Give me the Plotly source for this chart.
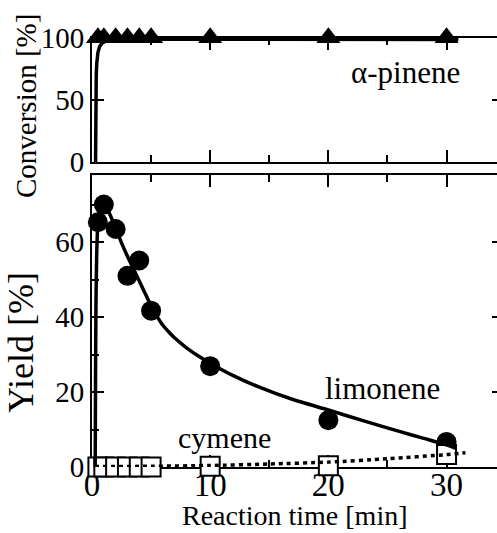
import plotly.graph_objects as go

# ---- data ----
time_pts = [0.5, 1, 2, 3, 4, 5, 10, 20, 30]
conversion = [100, 100, 100, 100, 100, 100, 100, 100, 100]
limonene = [65.3, 70.0, 63.5, 51.0, 55.1, 41.7, 26.9, 12.5, 6.7]
cymene = [0, 0, 0, 0, 0, 0, 0.2, 0.3, 3.3]

conv_fit_t = [0.3, 0.31, 0.33, 0.36, 0.4, 0.5, 0.65, 0.9, 1.3, 2, 5, 10, 20, 30, 31]
conv_fit = [0, 30, 55, 70, 79, 88, 93, 96, 97.8, 98.5, 98.7, 98.7, 98.7, 98.6, 98.6]

lim_fit_t = [0.27, 0.3, 0.34, 0.4, 0.45, 0.5, 0.6, 0.8, 1.0, 1.2, 1.5, 2, 2.5, 3, 3.5, 4, 4.5,
             5, 5.5, 6, 6.5, 7, 8, 9, 10, 12, 14, 17, 20, 23, 26, 28, 30, 30.8]
lim_fit = [0, 25, 45, 57, 62, 65, 67.5, 69.3, 69.8, 69.5, 67.5, 63.8, 59.8, 56.2, 52.9, 49.6,
           46.3, 43.0, 40.2, 37.8, 36.0, 34.4, 31.8, 29.6, 27.7, 24.3, 21.5, 18.0, 15.2, 12.3,
           9.5, 7.7, 5.9, 5.0]

cym_fit_t = [0.25, 5, 10, 15, 20, 25, 30, 31.6]
cym_fit = [0.1, 0.2, 0.4, 0.8, 1.3, 2.2, 3.3, 3.8]

x_ticks = [0, 10, 20, 30]
conv_ticks = [0, 50, 100]
yield_ticks = [0, 20, 40, 60]

FONT = "Liberation Serif, Times New Roman, DejaVu Serif, serif"
BLACK = "black"

fig = go.Figure()

# top panel (conversion)
fig.add_trace(go.Scatter(x=time_pts, y=conversion, mode="markers", xaxis="x2", yaxis="y2",
                         marker=dict(symbol="triangle-up", size=21, color=BLACK),
                         cliponaxis=False, showlegend=False))
fig.add_trace(go.Scatter(x=conv_fit_t, y=conv_fit, mode="lines", xaxis="x2", yaxis="y2",
                         line=dict(color=BLACK, width=3.5), cliponaxis=False, showlegend=False))

# bottom panel (yield)
fig.add_trace(go.Scatter(x=time_pts, y=limonene, mode="markers", xaxis="x", yaxis="y",
                         marker=dict(symbol="circle", size=20, color=BLACK),
                         cliponaxis=False, showlegend=False))
fig.add_trace(go.Scatter(x=time_pts, y=cymene, mode="markers", xaxis="x", yaxis="y",
                         marker=dict(symbol="square", size=19, color="white",
                                     line=dict(color=BLACK, width=2)),
                         cliponaxis=False, showlegend=False))
fig.add_trace(go.Scatter(x=lim_fit_t, y=lim_fit, mode="lines", xaxis="x", yaxis="y",
                         line=dict(color=BLACK, width=3.5, shape="spline", smoothing=0.6),
                         cliponaxis=False, showlegend=False))
fig.add_trace(go.Scatter(x=cym_fit_t, y=cym_fit, mode="lines", xaxis="x", yaxis="y",
                         line=dict(color=BLACK, width=3.5, dash="4px,4px", shape="spline",
                                   smoothing=0.6),
                         cliponaxis=False, showlegend=False))

# dummy traces for right-side tick axes
fig.add_trace(go.Scatter(x=[None], y=[None], xaxis="x", yaxis="y3", showlegend=False, hoverinfo="skip"))
fig.add_trace(go.Scatter(x=[None], y=[None], xaxis="x2", yaxis="y4", showlegend=False, hoverinfo="skip"))

XR = [0, 34.27]
Y_BOT = [0, 77.9]
Y_TOP = [0, 100]
bot_dom = [0, 0.6253]
top_dom = [0.6531, 0.9193]

common_x = dict(range=XR, showgrid=False, zeroline=False, showline=True, linecolor=BLACK,
                linewidth=2, mirror="ticks", ticks="inside", ticklen=12, tickwidth=2,
                tickcolor=BLACK, tickvals=x_ticks, layer="below traces", automargin=False,
                minor=dict(dtick=5, ticks="inside", ticklen=7, tickwidth=2, tickcolor=BLACK,
                           showgrid=False))

fig.update_layout(
    template="none",
    width=497, height=533,
    margin=dict(l=92, r=0, t=0, b=66, pad=0, autoexpand=False),
    paper_bgcolor="white", plot_bgcolor="white",
    font=dict(family=FONT, color=BLACK),
    xaxis=dict(common_x, anchor="y", ticktext=[str(v) for v in x_ticks],
               tickfont=dict(family=FONT, size=33), showticklabels=True,
               ticklabelstandoff=-13),
    xaxis2=dict(common_x, anchor="y2", showticklabels=False, matches="x"),
    yaxis=dict(range=Y_BOT, domain=bot_dom, anchor="x", showgrid=False, zeroline=False,
               showline=True, linecolor=BLACK, linewidth=2, ticks="inside", ticklen=12,
               tickwidth=2, tickcolor=BLACK, tickvals=yield_ticks, automargin=False,
               tickfont=dict(family=FONT, size=29), layer="below traces",
               minor=dict(dtick=10, ticks="inside", ticklen=7, tickwidth=2,
                          tickcolor=BLACK, showgrid=False)),
    yaxis2=dict(range=Y_TOP, domain=top_dom, anchor="x2", showgrid=False, zeroline=False,
                showline=True, linecolor=BLACK, linewidth=2, ticks="inside", ticklen=12,
                tickwidth=2, tickcolor=BLACK, tickvals=conv_ticks, automargin=False,
                tickfont=dict(family=FONT, size=29), layer="below traces"),
    yaxis3=dict(range=Y_BOT, domain=bot_dom, overlaying="y", side="right", anchor="x",
                showgrid=False, zeroline=False, showline=False, ticks="inside", ticklen=5,
                tickwidth=2, tickcolor=BLACK, tickvals=yield_ticks, showticklabels=False,
                automargin=False),
    yaxis4=dict(range=Y_TOP, domain=top_dom, overlaying="y2", side="right", anchor="x2",
                showgrid=False, zeroline=False, showline=False, ticks="inside", ticklen=5,
                tickwidth=2, tickcolor=BLACK, tickvals=conv_ticks, showticklabels=False,
                automargin=False),
)

ann_font = dict(family=FONT, size=31, color=BLACK)
fig.add_annotation(x=26.5, y=71.8, xref="x2", yref="y2", text="α-pinene", showarrow=False,
                   font=ann_font, xanchor="center", yanchor="middle")
fig.add_annotation(x=24.6, y=21.0, xref="x", yref="y", text="limonene", showarrow=False,
                   font=ann_font, xanchor="center", yanchor="middle")
fig.add_annotation(x=11.25, y=7.9, xref="x", yref="y", text="cymene", showarrow=False,
                   font=dict(family=FONT, size=30, color=BLACK), xanchor="center",
                   yanchor="middle")

# axis titles
fig.add_annotation(x=(26 - 92) / 405, y=(467 - 106) / 467, xref="paper", yref="paper",
                   text="Conversion [%]", textangle=-90, showarrow=False,
                   font=dict(family=FONT, size=29, color=BLACK),
                   xanchor="center", yanchor="middle")
fig.add_annotation(x=(21 - 92) / 405, y=(467 - 343) / 467, xref="paper", yref="paper",
                   text="Yield [%]", textangle=-90, showarrow=False,
                   font=dict(family=FONT, size=36, color=BLACK),
                   xanchor="center", yanchor="middle")
fig.add_annotation(x=0.5, y=(467 - 515) / 467, xref="paper", yref="paper",
                   text="Reaction time [min]", showarrow=False,
                   font=dict(family=FONT, size=28, color=BLACK),
                   xanchor="center", yanchor="middle")

fig.write_html("out.html", config={"displayModeBar": False},
               post_script="document.body.style.margin='0';document.body.style.overflow='hidden';")
